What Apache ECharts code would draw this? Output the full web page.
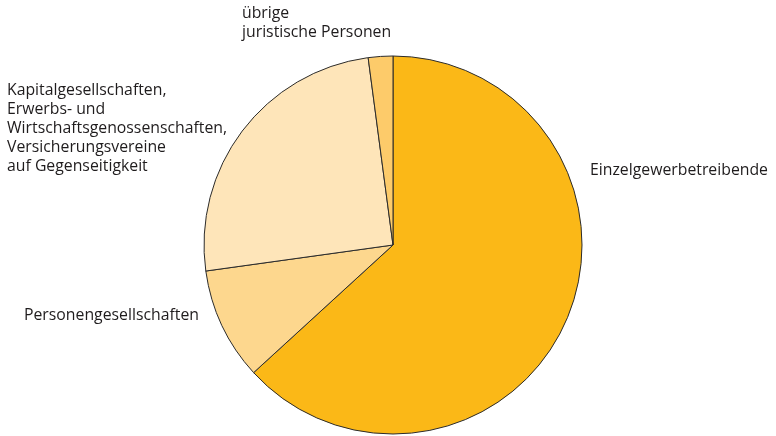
<!DOCTYPE html>
<html><head><meta charset="utf-8">
<script src="https://cdn.jsdelivr.net/npm/echarts@6/dist/echarts.min.js"></script>
<style>html,body{margin:0;padding:0;background:#fff}#c{width:776px;height:436px}</style>
</head><body><div id="c"></div>
<script>
const categories = [
  "Einzelgewerbetreibende",
  "Personengesellschaften",
  "Kapitalgesellschaften,\nErwerbs- und\nWirtschaftsgenossenschaften,\nVersicherungsvereine\nauf Gegenseitigkeit",
  "übrige\njuristische Personen"
];
const shares = [63.2, 9.6, 25.1, 2.1];
const colors = ["#FBB817", "#FDD78E", "#FEE5B9", "#FDCB6A"];
const labelPos = [[590, 161], [24, 305.5], [7, 81], [242, 4]];

const chart = echarts.init(document.getElementById('c'), null, {renderer: 'canvas'});
chart.setOption({
  animation: false,
  series: [{
    type: 'pie',
    center: [393, 245],
    radius: 189,
    startAngle: 90,
    clockwise: true,
    data: categories.map((n, i) => ({name: n, value: shares[i], itemStyle: {color: colors[i]}})),
    itemStyle: {borderColor: '#2b2b2b', borderWidth: 1},
    label: {
      show: true, position: 'outside', formatter: '{b}', overflow: 'none',
      fontFamily: 'Open Sans', fontSize: 15.8, color: '#1f1c1d', lineHeight: 19
    },
    labelLine: {show: false},
    labelLayout: function (p) {
      const pos = labelPos[p.dataIndex];
      return {x: pos[0], y: pos[1], align: 'left', verticalAlign: 'top', hideOverlap: false, moveOverlap: null};
    },
    emphasis: {disabled: true}
  }]
});
</script></body></html>
